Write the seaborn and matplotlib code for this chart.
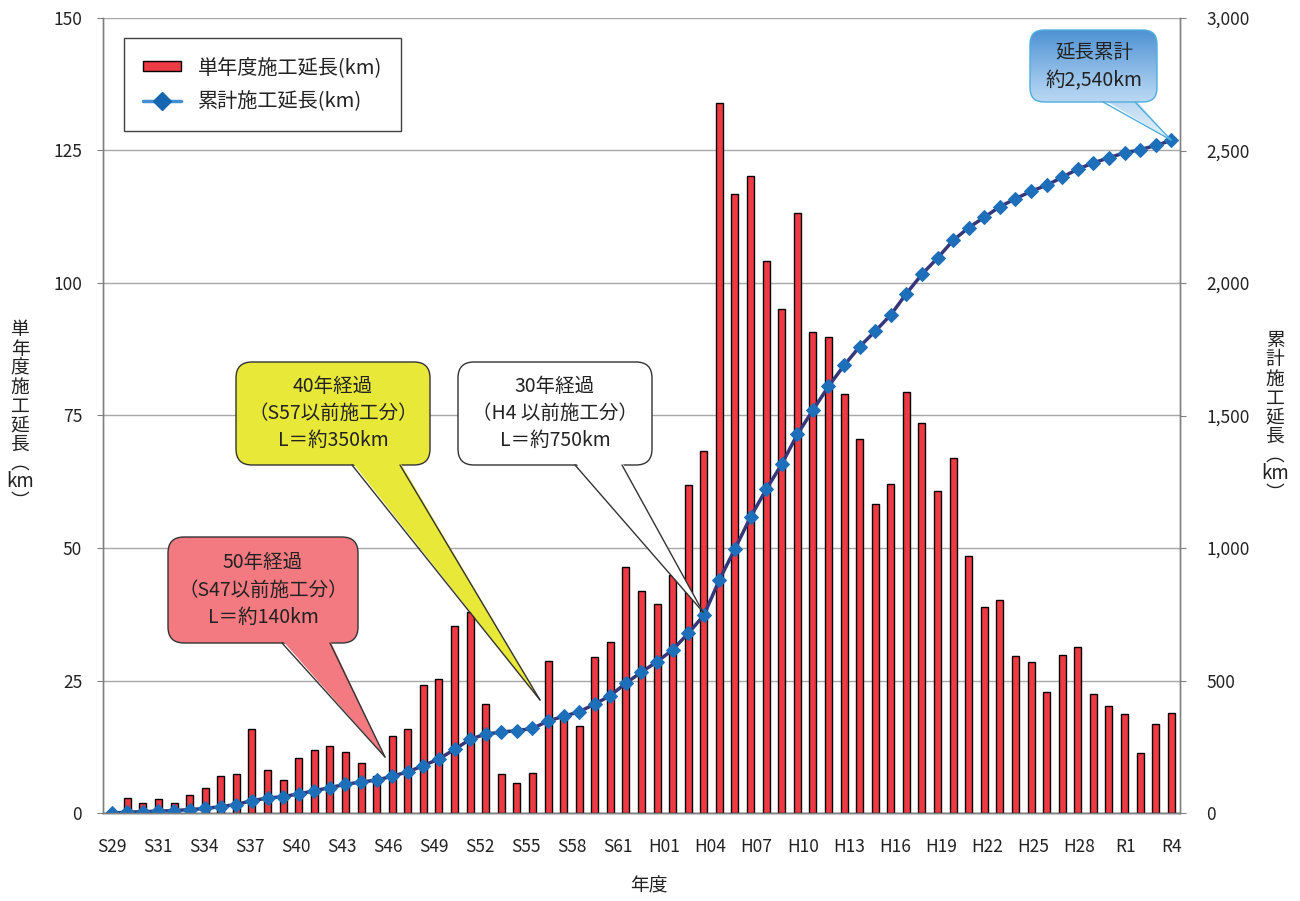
import numpy as np
import pandas as pd
import seaborn as sns
import matplotlib.pyplot as plt
from matplotlib.patches import FancyBboxPatch, Polygon, Patch
from matplotlib.lines import Line2D
from matplotlib.colors import LinearSegmentedColormap

# fiscal years S29 .. R4
years = ([f"S{n}" for n in range(29, 64)]
         + [f"H{n:02d}" for n in range(1, 31)]
         + [f"R{n}" for n in range(1, 5)])

tick_labels = ["S29", "S31", "S34", "S37", "S40", "S43", "S46", "S49", "S52",
               "S55", "S58", "S61", "H01", "H04", "H07", "H10", "H13", "H16",
               "H19", "H22", "H25", "H28", "R1", "R4"]

# single-year construction length (km)
single_km = [0, 2.8, 1.95, 2.6, 1.95, 3.45, 4.65, 7.0, 7.3, 15.8,
             8.1, 6.2, 10.3, 11.8, 12.6, 11.45, 9.5, 7.0, 14.6, 15.8,
             24.15, 25.3, 35.3, 38.0, 20.5, 7.3, 5.66, 7.5, 28.7, 18.0,
             16.5, 29.4, 32.3, 46.4, 41.9, 39.4, 45.0, 61.8, 68.3, 134.0,
             116.7, 120.2, 104.1, 95.0, 113.2, 90.7, 89.9, 79.0, 70.6, 58.3,
             62.1, 79.5, 73.5, 60.8, 67.0, 48.4, 38.9, 40.1, 29.6, 28.4,
             22.8, 29.9, 31.4, 22.4, 20.1, 18.6, 11.3, 16.7, 18.8]

# cumulative construction length (km)
cumulative_km = [0, 3, 5, 7, 9, 13, 17, 24, 32, 47,
                 56, 62, 72, 84, 96, 108, 117, 124, 139, 155,
                 179, 204, 240, 278, 298, 305, 311, 319, 347, 365,
                 382, 411, 443, 490, 532, 571, 616, 678, 746, 880,
                 997, 1117, 1221, 1316, 1429, 1520, 1610, 1689, 1760, 1818,
                 1880, 1960, 2033, 2094, 2161, 2209, 2248, 2288, 2318, 2346,
                 2369, 2399, 2430, 2453, 2473, 2491, 2503, 2519, 2538]

df = pd.DataFrame({"year": years, "single": single_km,
                   "cum": cumulative_km, "pos": np.arange(len(years))})

bar_red = "#EE3A43"
line_navy = "#36367A"
marker_blue = "#1E6FBA"
text_col = "#222222"

sns.set_style("white")
plt.rcParams["font.family"] = ["Noto Sans CJK JP", "DejaVu Sans"]

W, H = 1300, 901
fig = plt.figure(figsize=(W / 100, H / 100), dpi=100)
ax = fig.add_axes([103 / W, 88 / H, 1077 / W, 795 / H])

sns.barplot(data=df, x="year", y="single", color=bar_red, saturation=1,
            edgecolor="black", linewidth=1, width=0.45, ax=ax, zorder=2)

ax2 = ax.twinx()
sns.lineplot(data=df, x="pos", y="cum", ax=ax2, color=line_navy, lw=2.5,
             marker="D", markersize=7.5, markerfacecolor=marker_blue,
             markeredgecolor=marker_blue, legend=False)

ax.set_xlim(-0.56, 68.56)
ax.set_ylim(0, 150)
ax2.set_ylim(0, 3000)
ax.set_yticks(range(0, 151, 25))
ax2.set_yticks(range(0, 3001, 500))
ax2.set_yticklabels([f"{v:,}" for v in range(0, 3001, 500)])
ax.set_xticks(np.linspace(0, 68, len(tick_labels)))
ax.set_xticklabels(tick_labels)
ax.set_xticks(np.arange(-0.5, 68.6, 1), minor=True)

ax.yaxis.grid(True, color="#A8A8A8", lw=1)
ax.set_axisbelow(True)
ax.set_xlabel("")
ax.set_ylabel("")
ax2.set_xlabel("")
ax2.set_ylabel("")

for a in (ax, ax2):
    a.spines["top"].set_visible(False)
    for s in ("left", "right", "bottom"):
        a.spines[s].set_color("#808080")
        a.spines[s].set_linewidth(1)
ax.spines["bottom"].set_color("#404040")

ax.tick_params(axis="x", which="major", length=0, pad=18, labelsize=12.5, labelcolor=text_col)
ax.tick_params(axis="x", which="minor", direction="in", length=4, color="#808080", width=1)
ax.tick_params(axis="y", length=4, color="#808080", pad=11, labelsize=12.5, labelcolor=text_col)
ax2.tick_params(axis="y", length=4, color="#808080", pad=15, labelsize=12.5, labelcolor=text_col)

# legend
handles = [Patch(facecolor=bar_red, edgecolor="black", lw=1),
           Line2D([], [], color="#3F8FD2", lw=2.5, marker="D", markersize=9,
                  markerfacecolor="#1565B0", markeredgecolor="#1565B0")]
leg = ax2.legend(handles, ["単年度施工延長(km)", "累計施工延長(km)"],
                 loc="upper left", bbox_to_anchor=(124 / W, 1 - 38 / H),
                 bbox_transform=fig.transFigure, frameon=True, fancybox=False,
                 edgecolor="#404040", framealpha=1, fontsize=14.5,
                 borderpad=0.95, labelspacing=0.65, handlelength=1.9,
                 handleheight=0.45, handletextpad=0.8, borderaxespad=0)
leg.get_frame().set_linewidth(1)
for t in leg.get_texts():
    t.set_color(text_col)

# axis titles, stacked vertically
left_chars = ["単", "年", "度", "施", "工", "延", "長", "︵", "km", "︶"]
right_chars = ["累", "計", "施", "工", "延", "長", "︵", "km", "︶"]
for i, ch in enumerate(left_chars):
    fig.text(20 / W, 1 - (330 + 19 * i) / H, ch, ha="center", va="center",
             fontsize=13.5, color=text_col)
for i, ch in enumerate(right_chars):
    fig.text(1275 / W, 1 - (341 + 19 * i) / H, ch, ha="center", va="center",
             fontsize=13.5, color=text_col)
fig.text(649 / W, 1 - 886 / H, "年度", ha="center", va="center",
         fontsize=13.5, color=text_col)

# overlay in reference pixel coordinates for the callouts
ov = fig.add_axes([0, 0, 1, 1], zorder=5)
ov.patch.set_alpha(0)
ov.axis("off")


def callout(x0, y0, x1, y1, base, tip, face, edge, lines, lw=1.0, radius=16):
    box = FancyBboxPatch((x0, y0), x1 - x0, y1 - y0,
                         boxstyle=f"round,pad=0,rounding_size={radius}",
                         fc=face, ec=edge, lw=lw, zorder=2)
    ov.add_patch(box)
    bl, br = base
    tail = Polygon([(bl, y1 - 3), tip, (br, y1 - 3)], closed=True,
                   fc=face, ec="none", zorder=3)
    ov.add_patch(tail)
    ov.plot([bl, tip[0]], [y1, tip[1]], color=edge, lw=lw, zorder=4)
    ov.plot([br, tip[0]], [y1, tip[1]], color=edge, lw=lw, zorder=4)
    cx = (x0 + x1) / 2
    n = len(lines)
    cy = (y0 + y1) / 2
    for k, t in enumerate(lines):
        ov.text(cx, cy + (k - (n - 1) / 2) * 27, t, ha="center", va="center",
                fontsize=14, color=text_col, zorder=5)


callout(168, 537, 358, 643, (282, 330), (385, 757), "#F27A80", "#333333",
        ["50年経過", "（S47以前施工分）", "L＝約140km"])
callout(236, 362, 430, 465, (352, 400), (540, 700), "#E8E838", "#333333",
        ["40年経過", "（S57以前施工分）", "L＝約350km"])
callout(458, 362, 652, 465, (575, 622), (703, 612), "white", "#333333",
        ["30年経過", "（H4 以前施工分）", "L＝約750km"])

# blue gradient callout at the end of the line
grad_cmap = LinearSegmentedColormap.from_list("bl", ["#4F93D4", "#A4CAEE", "#EAF4FC"])
box = FancyBboxPatch((1030, 30), 127, 72, boxstyle="round,pad=0,rounding_size=14",
                     fc="none", ec="#4FAEDC", lw=1, zorder=4)
ov.add_patch(box)
tail = Polygon([(1103, 99), (1171, 140), (1135, 99)], closed=True, fc="none",
               ec="none", zorder=1)
ov.add_patch(tail)
grad = np.linspace(0, 1, 100).reshape(-1, 1)
for clip in (box, tail):
    im = ov.imshow(grad, cmap=grad_cmap, extent=[1030, 1172, 140, 30],
                   aspect="auto", zorder=2, interpolation="bilinear")
    im.set_clip_path(clip)
ov.plot([1103, 1171], [102, 140], color="#4FAEDC", lw=1, zorder=4)
ov.plot([1135, 1171], [102, 140], color="#4FAEDC", lw=1, zorder=4)
ov.text(1094, 52, "延長累計", ha="center", va="center", fontsize=14,
        color=text_col, zorder=5)
ov.text(1094, 81, "約2,540km", ha="center", va="center", fontsize=14,
        color=text_col, zorder=5)

ov.set_xlim(0, W)
ov.set_ylim(H, 0)

fig.savefig("out.png", dpi=100)
